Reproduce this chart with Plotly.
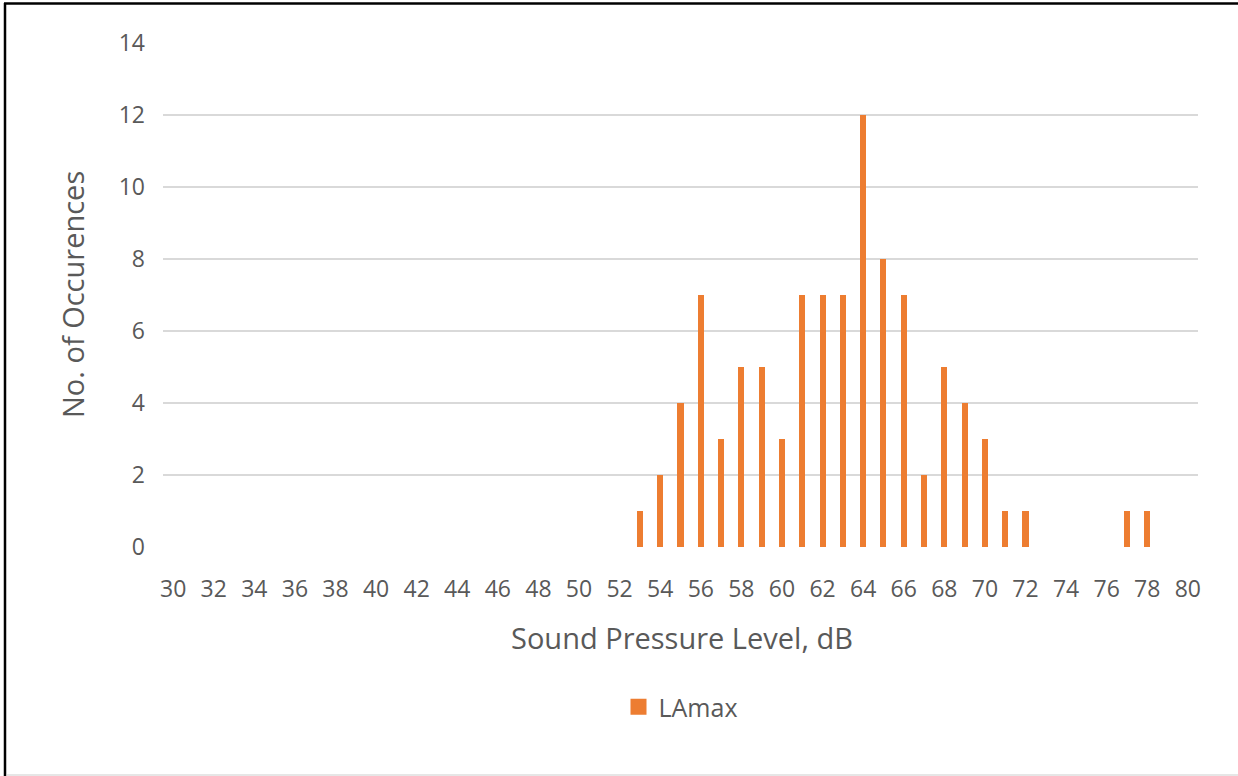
import plotly.graph_objects as go

# Sound pressure level bins (dB) and number of occurrences of LAmax in each
levels = [53, 54, 55, 56, 57, 58, 59, 60, 61, 62, 63, 64, 65, 66, 67, 68, 69, 70, 71, 72, 77, 78]
occurrences = [1, 2, 4, 7, 3, 5, 5, 3, 7, 7, 7, 12, 8, 7, 2, 5, 4, 3, 1, 1, 1, 1]
x_ticks = list(range(30, 81, 2))
y_ticks = list(range(0, 15, 2))

W, H = 1238, 776
L, R, T, B = 163, 40, 43, 229
pw, ph = W - L - R, H - T - B
bar_color = "#ED7D31"


def px_x(x):
    return (x - L) / pw


def px_y(y):
    return (H - B - y) / ph


font_family = "Open Sans, Noto Sans, sans-serif"
grey = "#595959"

fig = go.Figure()
fig.add_trace(go.Bar(
    x=levels,
    y=occurrences,
    name="LAmax",
    marker=dict(color=bar_color, line=dict(width=0)),
    width=0.3,
    showlegend=False,
))
# Legend entry with a square swatch
fig.add_trace(go.Scatter(
    x=[None], y=[None],
    mode="markers",
    name="LAmax",
    marker=dict(symbol="square", size=16, color=bar_color),
    showlegend=True,
))

fig.update_layout(
    width=W,
    height=H,
    margin=dict(l=L, r=R, t=T, b=B),
    paper_bgcolor="white",
    plot_bgcolor="white",
    font=dict(family=font_family, color=grey),
    showlegend=True,
    legend=dict(
        orientation="h",
        x=0.5, xanchor="center",
        y=px_y(707), yanchor="middle",
        font=dict(size=25, color=grey),
        itemwidth=30,
    ),
    xaxis=dict(
        range=[29.5, 80.5],
        tickmode="array",
        tickvals=x_ticks,
        ticktext=[str(v) for v in x_ticks],
        tickfont=dict(size=23, color=grey),
        showgrid=False,
        zeroline=False,
        showline=False,
        ticks="",
        ticklabelstandoff=26,
    ),
    yaxis=dict(
        range=[0, 14],
        tickmode="array",
        tickvals=y_ticks,
        tickfont=dict(size=23, color=grey),
        showgrid=True,
        gridcolor="#d9d9d9",
        gridwidth=2,
        zeroline=False,
        showline=False,
        ticks="",
        ticklabelstandoff=17,
    ),
    bargap=0,
)

# Axis titles
fig.add_annotation(
    text="Sound Pressure Level, dB",
    xref="paper", yref="paper",
    x=px_x(682) , y=px_y(637),
    xanchor="center", yanchor="middle",
    showarrow=False,
    font=dict(size=29, color=grey, family=font_family),
)
fig.add_annotation(
    text="No. of Occurences",
    xref="paper", yref="paper",
    x=px_x(72), y=px_y(295),
    xanchor="center", yanchor="middle",
    textangle=-90,
    showarrow=False,
    font=dict(size=29, color=grey, family=font_family),
)

# Chart frame: dark top and left edges, light bottom edge
fig.add_shape(type="line", xref="paper", yref="paper",
              x0=px_x(4), x1=px_x(W), y0=px_y(3.5), y1=px_y(3.5),
              line=dict(color="black", width=2.5))
fig.add_shape(type="line", xref="paper", yref="paper",
              x0=px_x(5), x1=px_x(5), y0=px_y(3), y1=px_y(H),
              line=dict(color="black", width=2.5))
fig.add_shape(type="line", xref="paper", yref="paper",
              x0=px_x(7), x1=px_x(W), y0=px_y(775), y1=px_y(775),
              line=dict(color="#e6e6e6", width=2))

fig.write_html("out.html")
